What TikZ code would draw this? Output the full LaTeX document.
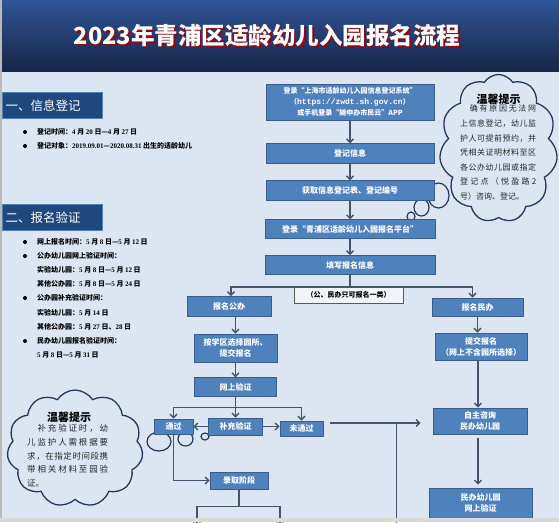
\documentclass[tikz,border=0pt]{standalone}
\usepackage{fontspec}
\setmainfont{Noto Sans CJK SC}
\newfontfamily\numfont{Liberation Serif}
\newfontfamily\urlfont{Liberation Mono}
\usetikzlibrary{arrows.meta,positioning,calc,shapes.symbols}

\definecolor{pagebg}{RGB}{220,230,242}
\definecolor{bantop}{RGB}{47,84,150}
\definecolor{banbot}{RGB}{24,38,72}
\definecolor{secblue}{RGB}{31,73,125}
\definecolor{secedge}{RGB}{79,129,189}
\definecolor{boxblue}{RGB}{79,129,189}
\definecolor{boxedge}{RGB}{56,93,138}
\definecolor{linkgray}{RGB}{68,84,106}
\definecolor{cloudnavy}{RGB}{38,55,92}
\definecolor{shadowred}{RGB}{140,10,20}

\newcommand\dg[1]{{\numfont #1}}
\newcommand\spreadline[2]{\hbox to #1{\spreadloop#2\relax}}
\def\spreadloop#1#2{#1\ifx\relax#2\else\hfil\expandafter\spreadloop\expandafter#2\fi}

\begin{document}
\begin{tikzpicture}[
  x=1pt, y=-1pt,
  box/.style={draw=boxedge, fill=boxblue, line width=0.9pt, text=white, align=center, inner sep=1pt, font=\bfseries\fontsize{8}{11}\selectfont},
  sect/.style={draw=secedge, fill=secblue, line width=1pt, text=white, anchor=north west, inner xsep=3pt, text width=94pt, minimum height=26pt, align=left, font=\fontsize{12.5}{12.5}\selectfont},
  note/.style={draw=gray!70!black, fill=white!60!pagebg, line width=0.8pt, inner sep=1pt, font=\bfseries\fontsize{7}{7}\selectfont},
  item/.style={anchor=west, inner sep=0pt, font=\bfseries\fontsize{7}{7}\selectfont},
  arr/.style={-{Straight Barb[length=3.5pt,width=7pt]}, draw=linkgray, line width=1.4pt},
  conn/.style={draw=linkgray, line width=1.4pt},
  cloudbox/.style={cloud, cloud puffs=11, cloud puff arc=115, draw=cloudnavy, line width=1.3pt, fill=pagebg, inner sep=0pt},
  tiphead/.style={font=\bfseries\fontsize{11}{11}\selectfont, inner sep=0pt},
  tipbody/.style={anchor=north west, inner sep=0pt, align=left, text=black!85, font=\fontsize{8}{14.6}\selectfont},
  bubble/.style={draw=cloudnavy, line width=1.2pt}
]
\useasboundingbox (0,0) rectangle (559,522);
\fill[pagebg] (0,0) rectangle (559,522);

% Title banner
\shade[top color=bantop, bottom color=banbot] (0,0) rectangle (559,71);
\node[text=shadowred, font=\bfseries\fontsize{23.5}{23.5}\selectfont] (titleshade) at (268.5,37.5) {2023年青浦区适龄幼儿入园报名流程};
\node[text=white, font=\bfseries\fontsize{23.5}{23.5}\selectfont] (title) at (267,36) {2023年青浦区适龄幼儿入园报名流程};

% Left column: dates
\node[sect] (sec1) at (2,92) {一、信息登记};
\node[item] (when1) at (37,132) {登记时间：\dg{4} 月 \dg{20} 日—\dg{4} 月 \dg{27} 日};
\node[item] (who1) at (37,146) {登记对象：\dg{2019.09.01}—\dg{2020.08.31} 出生的适龄幼儿};

\node[sect] (sec2) at (2,204) {二、报名验证};
\node[item] (apply1) at (37,242) {网上报名时间：\dg{5} 月 \dg{8} 日—\dg{5} 月 \dg{12} 日};
\node[item] (pubck) at (37,256) {公办幼儿园网上验证时间：};
\node[item] (pubck1) at (37,270) {实验幼儿园：\dg{5} 月 \dg{8} 日—\dg{5} 月 \dg{12} 日};
\node[item] (pubck2) at (37,284) {其他公办园：\dg{5} 月 \dg{8} 日—\dg{5} 月 \dg{24} 日};
\node[item] (suppck) at (37,298) {公办园补充验证时间：};
\node[item] (suppck1) at (37,313) {实验幼儿园：\dg{5} 月 \dg{14} 日};
\node[item] (suppck2) at (37,327) {其他公办园：\dg{5} 月 \dg{27} 日、\dg{28} 日};
\node[item] (privck) at (37,341) {民办幼儿园报名验证时间：};
\node[item] (privck1) at (37,355) {\dg{5} 月 \dg{8} 日—\dg{5} 月 \dg{31} 日};
\foreach \y in {132,146,242,256,298,341}
  \fill (25,\y) circle (2pt);

% Tip clouds
\node[cloudbox, minimum width=118pt, minimum height=148pt, aspect=0.8] (tipA) at (498.5,148.5) {};
\node[tiphead] (tipAhead) at (498.5,99) {温馨提示};
\node[tipbody] (tipAbody) at (460,105) {\spreadline{76pt}{　确有原因无法网}\\
  \spreadline{76pt}{上信息登记，幼儿监}\\
  \spreadline{76pt}{护人可提前预约，并}\\
  \spreadline{76pt}{凭相关证明材料至区}\\
  \spreadline{76pt}{各公办幼儿园或指定}\\
  \spreadline{76pt}{登记点（悦盈路2}\\
  号）咨询、登记。};
\draw[bubble] (438.5,195.5) ellipse [x radius=10.5pt, y radius=12.5pt];
\draw[bubble] (421.5,207.5) ellipse [x radius=7.5pt, y radius=8.5pt];
\draw[bubble] (411,216.5) ellipse [x radius=4pt, y radius=4.5pt];

\node[cloudbox, minimum width=136pt, minimum height=117pt, aspect=1.16] (tipB) at (75,448.5) {};
\node[tiphead] (tipBhead) at (69,417) {温馨提示};
\node[tipbody, font=\fontsize{8.5}{13.8}\selectfont] (tipBbody) at (27,424) {\spreadline{81pt}{　补充验证时，幼}\\
  \spreadline{81pt}{儿监护人需根据要}\\
  \spreadline{81pt}{求，在指定时间段携}\\
  \spreadline{81pt}{带相关材料至园验}\\
  证。};
\draw[bubble] (159,441.5) ellipse [x radius=12pt, y radius=9.5pt];
\draw[bubble] (185.5,439) ellipse [x radius=7.5pt, y radius=7pt];
\draw[bubble] (205,436.5) ellipse [x radius=4pt, y radius=3.5pt];

% Main column
\node[box, minimum width=168pt, minimum height=36pt, font=\bfseries\fontsize{7}{11}\selectfont] (reg) at (350,102) {登录“上海市适龄幼儿入园信息登记系统”\\ （{\urlfont\fontsize{8}{11}\selectfont https://zwdt.sh.gov.cn}）\\ 或手机登录“随申办市民云”APP};
\node[box, minimum width=168pt, minimum height=20pt, below=23pt of reg] (info) {登记信息};
\node[box, minimum width=168pt, minimum height=20pt, below=16pt of info] (code) {获取信息登记表、登记编号};
\node[box, minimum width=170pt, minimum height=19pt, below=18pt of code] (plat) {登录“青浦区适龄幼儿入园报名平台”};
\node[box, minimum width=170pt, minimum height=19pt, below=16pt of plat] (fillin) {填写报名信息};
\draw[arr] (reg) -- (info);
\draw[arr] (info) -- (code);
\draw[arr] (code) -- (plat);
\draw[arr] (plat) -- (fillin);
\node[note, minimum width=109pt, minimum height=16pt] (onlyone) at (348.5,295) {（公、民办只可报名一类）};

% Public branch
\node[box, minimum width=84pt, minimum height=20pt] (pub) at (229,306.5) {报名公办};
\node[box, minimum width=83pt, minimum height=28pt] (zone) at (235.5,348) {按学区选择园所、\\提交报名};
\node[box, minimum width=82pt, minimum height=19pt, below=15pt of zone] (check) {网上验证};
\node[box, minimum width=39pt, minimum height=15pt] (pass) at (173.5,426.5) {通过};
\node[box, minimum width=54pt, minimum height=17pt] (extra) at (235.5,426.5) {补充验证};
\node[box, minimum width=43pt, minimum height=15pt] (fail) at (301.5,428.5) {未通过};
\node[box, minimum width=58pt, minimum height=17pt] (admit) at (239,480.5) {录取阶段};

% Private branch
\node[box, minimum width=91pt, minimum height=18pt] (priv) at (477.5,307) {报名民办};
\node[box, minimum width=92pt, minimum height=27pt] (submit) at (481,346.5) {提交报名\\（网上不含园所选择）};
\node[box, minimum width=94pt, minimum height=26pt] (consult) at (480,421) {自主咨询\\民办幼儿园};
\node[box, minimum width=103pt, minimum height=30pt] (pcheck) at (480.5,503) {民办幼儿园\\网上验证};

% Connectors
\coordinate (fork) at ($(fillin.south)+(0,-12pt)$);
\draw[conn] (fillin.south) -- (fork);
\draw[arr] (fork) -| ([xshift=2pt]pub.north);
\draw[arr] (fork) -| ([xshift=-5pt]priv.north);
\draw[arr] (pub.south -| zone.north) -- (zone.north);
\draw[arr] (zone) -- (check);
\coordinate (vfork) at ($(check.south)+(0,-10pt)$);
\draw[conn] (check.south) -- (vfork);
\draw[arr] (vfork) -| (pass.north);
\draw[arr] (vfork) -- (extra.north);
\draw[arr] (vfork) -| (fail.north);
\draw[arr] (extra.west) -- (pass.east);
\draw[arr] (extra.east) -- (extra.east -| fail.west);
\draw[arr] (pass.south) |- (admit.west);
\coordinate (afork) at ($(admit.south)+(0,-17pt)$);
\coordinate (adown1) at (197,527);
\coordinate (adown2) at (280,527);
\draw[conn] (admit.south) -- (afork);
\draw[arr] (afork) -| (adown1);
\draw[arr] (afork) -| (adown2);

\coordinate (failout) at ($(fail.east |- consult.west)+(7pt,-2pt)$);
\draw[arr, shorten >=12pt] (failout) -- (failout -| consult.west);
\coordinate (drop) at ($(failout)+(66pt,0)$);
\coordinate (dropend) at (drop |- adown1);
\draw[conn] (drop) -- (dropend);

\draw[arr] (priv.south) -- (priv.south |- submit.north);
\draw[arr] ([xshift=-3pt]submit.south) -- ([xshift=-3pt]submit.south |- consult.north);
\draw[arr, shorten <=4pt, shorten >=3pt] ([xshift=-2pt]consult.south) -- ([xshift=-2pt]consult.south |- pcheck.north);

% Frame edges
\fill[gray!55] (0,0) rectangle (1.5,522);
\fill[gray!30] (0,518) rectangle (559,522);
\end{tikzpicture}
\end{document}
